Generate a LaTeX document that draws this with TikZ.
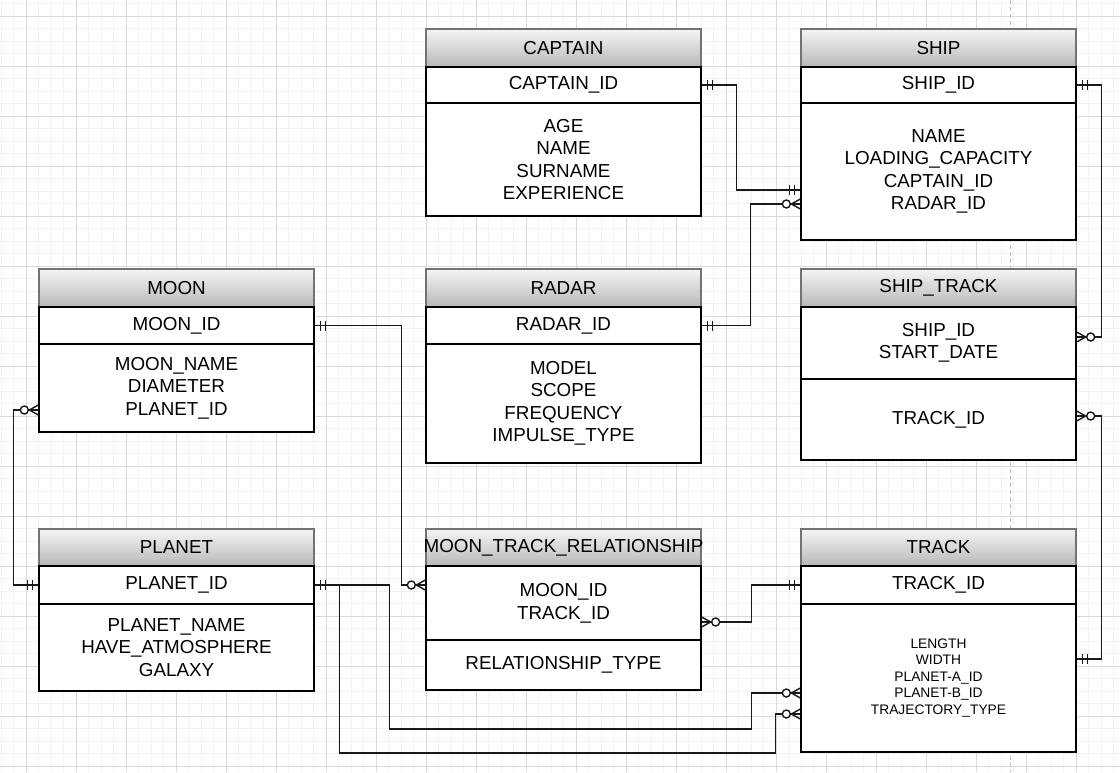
\documentclass[tikz,border=0pt]{standalone}
\usepackage{fontspec}
\setmainfont{Liberation Sans}
\begin{document}
\begin{tikzpicture}[x=1pt,y=-1pt,
  ent/.style={draw=black, line width=1.3pt, fill=white, minimum width=275pt, inner sep=0pt, align=center, font=\fontsize{18.8}{22.5}\selectfont, text=black},
  hdr/.style={ent, draw=black!55, top color=black!4, bottom color=black!28},
  conn/.style={line width=1.4pt, draw=black!90},
  minorgrid/.style={draw=black!5, line width=0.9pt},
  majorgrid/.style={draw=black!15, line width=0.9pt},
  erone/.pic={\draw[line width=1.4pt, black!90] (6,-5)--(6,5) (11,-5)--(11,5);},
  ermany/.pic={\draw[line width=1.4pt, black!90] (0,-5)--(9,0)--(0,5); \draw[line width=1.4pt, black!90, fill=white] (14,0) circle[radius=4pt];}
]
\useasboundingbox (0,0) rectangle (1120,772);
\fill[white] (0,0) rectangle (1120,772);
% grid
\foreach \i in {0,...,89} \draw[minorgrid] ({1+12.5*\i},0) -- ({1+12.5*\i},772);
\foreach \j in {0,...,61} \draw[minorgrid] (0,{3.5+12.5*\j}) -- (1120,{3.5+12.5*\j});
\foreach \i in {0,...,21} \draw[majorgrid] ({26+50*\i},0) -- ({26+50*\i},772);
\foreach \j in {0,...,15} \draw[majorgrid] (0,{16+50*\j}) -- (1120,{16+50*\j});
\draw[black!25, line width=1pt, dash pattern=on 4pt off 3pt] (1010,0) -- (1010,772);

% CAPTAIN
\node[hdr, minimum height=38pt] (cap-h) at (563.5,48) {CAPTAIN};
\node[ent, minimum height=36pt] (cap-k) at (563.5,85) {CAPTAIN\_ID};
\node[ent, minimum height=113pt] (cap-b) at (563.5,159.5) {AGE\\NAME\\SURNAME\\EXPERIENCE};
% SHIP
\node[hdr, minimum height=38pt] (ship-h) at (938.5,48) {SHIP};
\node[ent, minimum height=36pt] (ship-k) at (938.5,85) {SHIP\_ID};
\node[ent, minimum height=137pt] (ship-b) at (938.5,171.5) {NAME\\LOADING\_CAPACITY\\CAPTAIN\_ID\\RADAR\_ID};
% MOON
\node[hdr, minimum height=38pt] (moon-h) at (176.5,288) {MOON};
\node[ent, minimum height=37pt] (moon-k) at (176.5,325.5) {MOON\_ID};
\node[ent, minimum height=88pt] (moon-b) at (176.5,388) {MOON\_NAME\\DIAMETER\\PLANET\_ID};
% RADAR
\node[hdr, minimum height=38pt] (rad-h) at (563.5,288) {RADAR};
\node[ent, minimum height=37pt] (rad-k) at (563.5,325.5) {RADAR\_ID};
\node[ent, minimum height=119pt] (rad-b) at (563.5,403.5) {MODEL\\SCOPE\\FREQUENCY\\IMPULSE\_TYPE};
% SHIP_TRACK
\node[hdr, minimum height=38pt] (st-h) at (938.5,288) {SHIP\_TRACK};
\node[ent, minimum height=72pt] (st-k) at (938.5,343) {SHIP\_ID\\START\_DATE};
\node[ent, minimum height=81pt] (st-b) at (938.5,419.5) {TRACK\_ID};
% PLANET
\node[hdr, minimum height=37pt] (pl-h) at (176.5,547.5) {PLANET};
\node[ent, minimum height=38pt] (pl-k) at (176.5,585) {PLANET\_ID};
\node[ent, minimum height=87pt] (pl-b) at (176.5,647.5) {PLANET\_NAME\\HAVE\_ATMOSPHERE\\GALAXY};
% MOON_TRACK_RELATIONSHIP
\node[hdr, minimum height=37pt] (mtr-h) at (563.5,547.5) {\makebox[0pt]{MOON\_TRACK\_RELATIONSHIP}};
\node[ent, minimum height=75pt] (mtr-k) at (563.5,603.5) {MOON\_ID\\TRACK\_ID};
\node[ent, minimum height=50pt] (mtr-b) at (563.5,665) {RELATIONSHIP\_TYPE};
% TRACK
\node[hdr, minimum height=37pt] (tr-h) at (938.5,547.5) {TRACK};
\node[ent, minimum height=38pt] (tr-k) at (938.5,585) {TRACK\_ID};
\node[ent, minimum height=148pt, font=\fontsize{13.8}{16.5}\selectfont] (tr-b) at (938.5,678) {LENGTH\\WIDTH\\PLANET-A\_ID\\PLANET-B\_ID\\TRAJECTORY\_TYPE};

% connectors
\draw[conn] (cap-k.east) -- ++(35,0) |- ([yshift=-18.5pt]ship-b.west);
\draw[conn] (rad-k.east) -- ++(49,0) |- ([yshift=-32.5pt]ship-b.west);
\draw[conn] (ship-k.east) -- ++(25,0) |- ([yshift=6pt]st-k.east);
\draw[conn] ([yshift=3.5pt]st-b.east) -- ++(25,0) |- ([yshift=19pt]tr-b.east);
\draw[conn] (moon-k.east) -- ++(87,0) |- ([yshift=18.5pt]mtr-k.west);
\draw[conn] ([yshift=-22pt]moon-b.west) -- ++(-25,0) |- (pl-k.west);
\draw[conn] (pl-k.east) -- ++(75,0) -- ++(0,144) -- ++(362,0) |- ([yshift=-15pt]tr-b.west);
\draw[conn] (pl-k.east) -- ++(25,0) -- ++(0,168) -- ++(436,0) |- ([yshift=-36pt]tr-b.west);
\draw[conn] ([yshift=-18.5pt]mtr-k.east) -- ++(50,0) |- (tr-k.west);

% end markers
\path (cap-k.east) pic {erone};
\path ([yshift=-18.5pt]ship-b.west) pic[xscale=-1] {erone};
\path (rad-k.east) pic {erone};
\path ([yshift=-32.5pt]ship-b.west) pic[xscale=-1] {ermany};
\path (ship-k.east) pic {erone};
\path ([yshift=6pt]st-k.east) pic {ermany};
\path ([yshift=3.5pt]st-b.east) pic {ermany};
\path ([yshift=19pt]tr-b.east) pic {erone};
\path (moon-k.east) pic {erone};
\path ([yshift=18.5pt]mtr-k.west) pic[xscale=-1] {ermany};
\path ([yshift=-22pt]moon-b.west) pic[xscale=-1] {ermany};
\path (pl-k.west) pic[xscale=-1] {erone};
\path (pl-k.east) pic {erone};
\path ([yshift=-15pt]tr-b.west) pic[xscale=-1] {ermany};
\path ([yshift=-36pt]tr-b.west) pic[xscale=-1] {ermany};
\path ([yshift=-18.5pt]mtr-k.east) pic {ermany};
\path (tr-k.west) pic[xscale=-1] {erone};
\end{tikzpicture}
\end{document}
